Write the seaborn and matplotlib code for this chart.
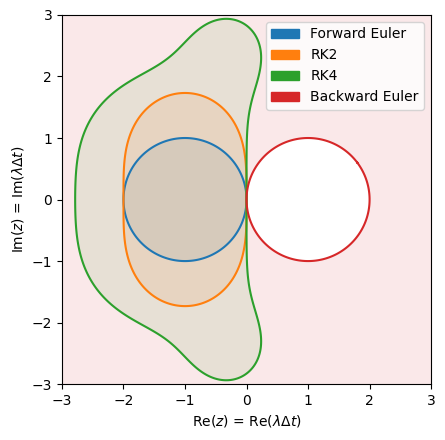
import numpy as np
import seaborn as sns
import matplotlib.pyplot as plt
from matplotlib.patches import Patch

# stability polynomial coefficients (ascending powers of z)
methods = ['Forward Euler', 'RK2', 'RK4', 'Backward Euler']
fe_coef = [1, 1]
rk2_coef = [1, 1, 1/2]
rk4_coef = [1, 1, 1/2, 1/6, 1/24]
be_coef = [1, -1]   # R(z) = 1 / (1 - z)
ticks = [-3, -2, -1, 0, 1, 2, 3]

colors = sns.color_palette('tab10', 4)

x = np.linspace(-3, 3, 801)
X, Y = np.meshgrid(x, x)
Z = X + 1j * Y

def poly(c, z):
    return sum(ci * z**i for i, ci in enumerate(c))

amps = [np.abs(poly(fe_coef, Z)),
        np.abs(poly(rk2_coef, Z)),
        np.abs(poly(rk4_coef, Z)),
        1 / np.abs(poly(be_coef, Z))]

fig = plt.figure(figsize=(4.45, 4.40), dpi=100)
ax = fig.add_axes([0.139, 0.127, 0.830, 0.839])

for a, col in zip(amps, colors):
    ax.contourf(X, Y, a, levels=[0, 1], colors=[col], alpha=0.1)
    ax.contour(X, Y, a, levels=[1], colors=[col], linewidths=1.5)

ax.set_xlim(-3, 3)
ax.set_ylim(-3, 3)
ax.set_xticks(ticks)
ax.set_yticks(ticks)
ax.set_aspect('equal')
ax.set_xlabel(r'Re$(z)$ = Re$(\lambda\Delta t)$')
ax.set_ylabel(r'Im$(z)$ = Im$(\lambda\Delta t)$')

handles = [Patch(color=c, label=m) for c, m in zip(colors, methods)]
ax.legend(handles=handles, loc='upper right')

plt.savefig('out.png', dpi=100)
